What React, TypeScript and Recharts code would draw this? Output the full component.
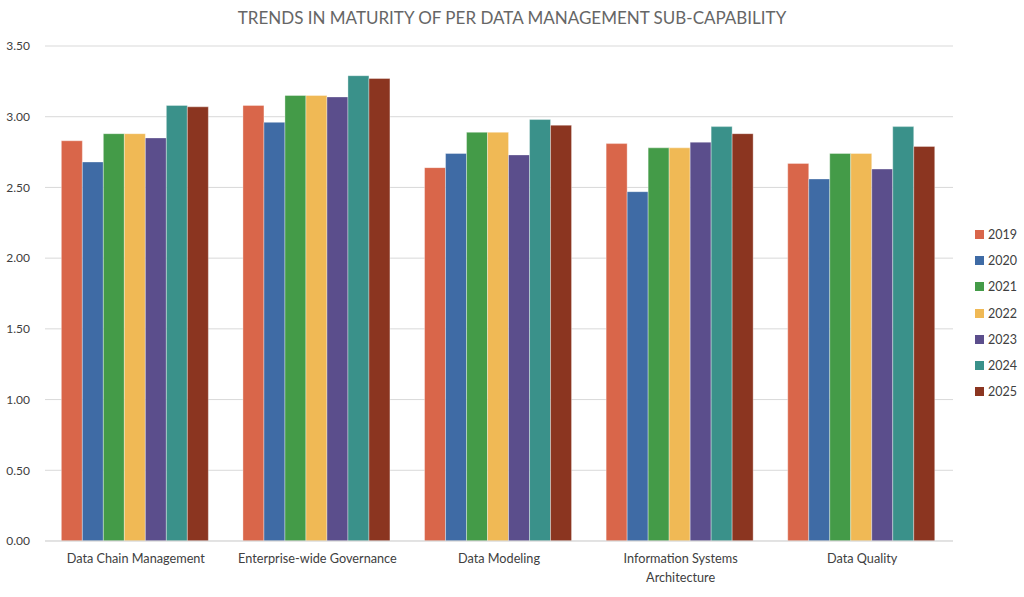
import React from 'react';
import { BarChart, Bar, XAxis, YAxis, CartesianGrid } from 'recharts';

const categories = [
  'Data Chain Management',
  'Enterprise-wide Governance',
  'Data Modeling',
  'Information Systems Architecture',
  'Data Quality',
];

const years = ['2019', '2020', '2021', '2022', '2023', '2024', '2025'];

const v2019 = [2.83, 3.08, 2.64, 2.81, 2.67];
const v2020 = [2.68, 2.96, 2.74, 2.47, 2.56];
const v2021 = [2.88, 3.15, 2.89, 2.78, 2.74];
const v2022 = [2.88, 3.15, 2.89, 2.78, 2.74];
const v2023 = [2.85, 3.14, 2.73, 2.82, 2.63];
const v2024 = [3.08, 3.29, 2.98, 2.93, 2.93];
const v2025 = [3.07, 3.27, 2.94, 2.88, 2.79];

const yTicks = [0, 0.5, 1, 1.5, 2, 2.5, 3, 3.5];

const colors = ['#D9664A', '#3F6BA5', '#449B48', '#F0B955', '#5B4E8C', '#3A918A', '#8B3520'];

const series = [v2019, v2020, v2021, v2022, v2023, v2024, v2025];

const data = categories.map((name, i) => {
  const row: any = { name };
  years.forEach((y, j) => {
    row[y] = series[j][i];
  });
  return row;
});

const font = 'Lato, "Open Sans", sans-serif';

// greedy wrap by character count, long labels go on two lines
const wrap = (s: string, max = 26) => {
  const lines: string[] = [];
  let cur = '';
  s.split(' ').forEach((w) => {
    const next = cur ? cur + ' ' + w : w;
    if (next.length > max && cur) {
      lines.push(cur);
      cur = w;
    } else {
      cur = next;
    }
  });
  if (cur) lines.push(cur);
  return lines;
};

const CategoryTick = ({ x, y, payload }: any) => (
  <text
    x={x}
    y={y}
    textAnchor="middle"
    fill="#404040"
    style={{ fontFamily: font, fontSize: 12.7 }}
  >
    {wrap(payload.value).map((line, i) => (
      <tspan key={i} x={x} dy={i === 0 ? '0.71em' : 19}>
        {line}
      </tspan>
    ))}
  </text>
);

const App = () => {
  return (
    <div style={{ position: 'relative', width: 1024, height: 597, background: '#fff', fontFamily: font }}>
      <style>{'body{margin:0}'}</style>
      <div
        style={{
          position: 'absolute',
          top: 7,
          left: 0,
          width: 1024,
          textAlign: 'center',
          fontSize: 17,
          color: '#666666',
          fontFamily: font,
        }}
      >
        TRENDS IN MATURITY OF PER DATA MANAGEMENT SUB-CAPABILITY
      </div>
      <BarChart
        width={1024}
        height={597}
        data={data}
        margin={{ top: 46, right: 71, left: 0, bottom: 26 }}
        barCategoryGap="9%"
        barGap={0}
      >
        <CartesianGrid vertical={false} stroke="#d9d9d9" />
        <XAxis
          dataKey="name"
          tick={<CategoryTick />}
          tickLine={false}
          tickSize={0}
          tickMargin={13}
          axisLine={{ stroke: '#d9d9d9' }}
          interval={0}
          height={30}
        />
        <YAxis
          domain={[0, 3.5]}
          ticks={yTicks}
          width={45}
          tickLine={false}
          axisLine={false}
          tickSize={0}
          tickMargin={15}
          tickFormatter={(v: number) => v.toFixed(2)}
          tick={{ fontFamily: font, fontSize: 12, fill: '#404040' }}
        />
        {years.map((y, j) => (
          <Bar
            key={y}
            dataKey={y}
            fill={colors[j]}
            stroke="rgba(255,255,255,0.35)"
            strokeWidth={1}
            isAnimationActive={false}
          />
        ))}
      </BarChart>
      <div style={{ position: 'absolute', left: 975, top: 221 }}>
        {years.map((y, j) => (
          <div key={y} style={{ display: 'flex', alignItems: 'center', height: 26.3 }}>
            <span style={{ display: 'inline-block', width: 9, height: 9, background: colors[j], marginRight: 4 }} />
            <span style={{ fontSize: 12.5, color: '#404040', fontFamily: font }}>{y}</span>
          </div>
        ))}
      </div>
    </div>
  );
};

export default App;
